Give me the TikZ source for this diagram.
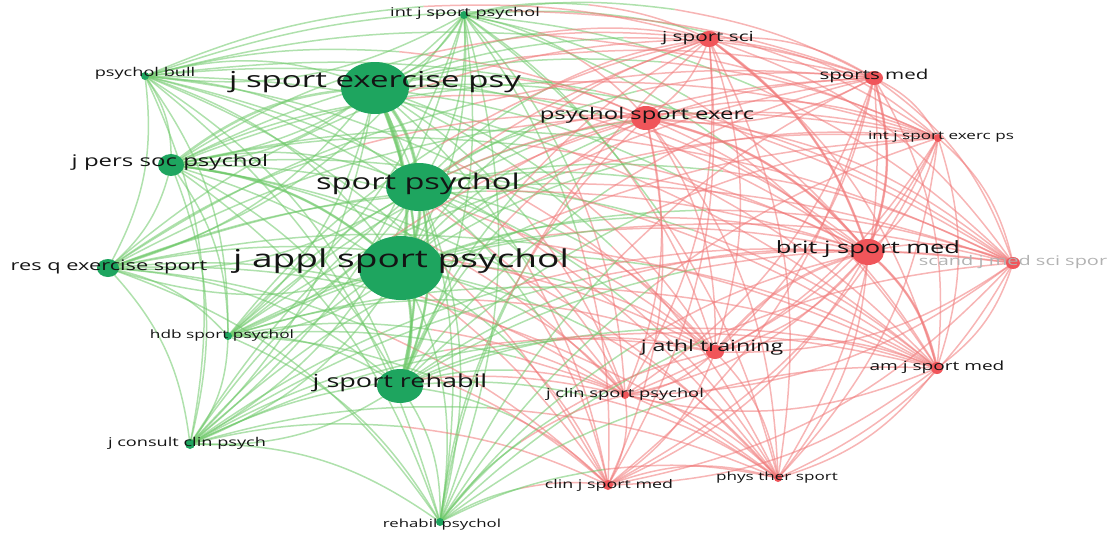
\documentclass[tikz,border=0pt]{standalone}
\usepackage{fontspec}
\setmainfont{Open Sans}[FakeStretch=1.5]
\definecolor{gnode}{RGB}{30,165,95}
\definecolor{rnode}{RGB}{240,85,90}
\definecolor{e2}{RGB}{110,200,105}
\definecolor{e4}{RGB}{240,120,120}
\definecolor{txt}{RGB}{20,20,20}
\begin{document}
\begin{tikzpicture}[x=1pt,y=-1pt,
  lbl/.style={font=\fontsize{#1}{#1}\selectfont,text=txt,inner sep=0pt,anchor=mid},
  gball/.style={fill=gnode,draw=none},
  rball/.style={fill=rnode,draw=none},
  lnk/.style={line width=1.5pt,opacity=0.55,bend left=18}]
\useasboundingbox (0,0) rectangle (1111,544);

\coordinate (isp) at (464,15);
\coordinate (pbull) at (145,76);
\coordinate (jsep) at (375,88);
\coordinate (jpsp) at (171,165);
\coordinate (spsy) at (419,187);
\coordinate (jasp) at (401,268);
\coordinate (resq) at (108,268);
\coordinate (hdb) at (228,336);
\coordinate (jsr) at (400,386);
\coordinate (jccp) at (190,444);
\coordinate (rpsy) at (440,522);
\coordinate (jss) at (709,39);
\coordinate (smed) at (874,78);
\coordinate (pse) at (646,118);
\coordinate (ijse) at (938,138);
\coordinate (bjsm) at (868,252);
\coordinate (sjms) at (1013,263);
\coordinate (jat) at (715,352);
\coordinate (ajsm) at (937,368);
\coordinate (jcsp) at (625,395);
\coordinate (cjsm) at (608,485);
\coordinate (pts) at (778,478);

\def\journals{isp/1,pbull/1,jsep/1,jpsp/1,spsy/1,jasp/1,resq/1,hdb/1,jsr/1,jccp/1,rpsy/1,jss/2,smed/2,pse/2,ijse/2,bjsm/2,sjms/2,jat/2,ajsm/2,jcsp/2,cjsm/2,pts/2}
\foreach \a/\ga [count=\i] in \journals {
  \foreach \b/\gb [count=\j] in \journals {
    \ifnum\j>\i
      \pgfmathtruncatemacro\s{\ga+\gb}
      \ifnum\s=3
        \path (\a) to[bend left=18] coordinate[pos=0.5] (half) (\b);
        \draw[lnk,e2,bend left=9] (\a) to (half);
        \draw[lnk,e4,bend left=9] (half) to (\b);
      \else
        \draw[lnk,color=e\s] (\a) to (\b);
      \fi
    \fi
  }
}
\draw[lnk,line width=3.5pt,color=e2] (jsep) to (spsy);
\draw[lnk,line width=3.5pt,color=e2] (spsy) to (jasp);
\draw[lnk,line width=3.5pt,color=e2] (jsep) to (jasp);
\draw[lnk,line width=3pt,color=e2] (jasp) to (jsr);
\draw[lnk,line width=2.5pt,color=e2] (spsy) to (jsr);
\draw[lnk,line width=2.5pt,color=e2] (jsep) to (jsr);
\draw[lnk,line width=2.5pt,color=e2] (jpsp) to (jasp);
\draw[lnk,line width=2.5pt,color=e2] (jpsp) to (jsep);
\draw[lnk,line width=2.5pt,color=e4] (pse) to (bjsm);
\draw[lnk,line width=2.5pt,color=e4] (jss) to (bjsm);
\draw[lnk,line width=2.5pt,color=e4] (smed) to (bjsm);
\draw[lnk,line width=2.5pt,color=e4] (bjsm) to (ajsm);
\draw[lnk,line width=2.5pt,color=e4] (jat) to (bjsm);

\fill[gball] (isp) circle[radius=4];
\fill[gball] (pbull) circle[radius=4];
\fill[gball] (jsep) ellipse[x radius=34,y radius=26];
\fill[gball] (jpsp) ellipse[x radius=13,y radius=11];
\fill[gball] (spsy) ellipse[x radius=33,y radius=24];
\fill[gball] (jasp) ellipse[x radius=42,y radius=32];
\fill[gball] (resq) ellipse[x radius=11,y radius=9];
\fill[gball] (hdb) circle[radius=4];
\fill[gball] (jsr) ellipse[x radius=23,y radius=17];
\fill[gball] (jccp) circle[radius=5];
\fill[gball] (rpsy) circle[radius=4];
\fill[rball] (jss) ellipse[x radius=10,y radius=8];
\fill[rball] (smed) ellipse[x radius=9,y radius=7];
\fill[rball] (pse) ellipse[x radius=15,y radius=12];
\fill[rball] (ijse) circle[radius=4];
\fill[rball] (bjsm) ellipse[x radius=16,y radius=13];
\fill[rball] (sjms) ellipse[x radius=7,y radius=6];
\fill[rball] (jat) ellipse[x radius=9,y radius=7];
\fill[rball] (ajsm) circle[radius=6];
\fill[rball] (jcsp) circle[radius=4];
\fill[rball] (cjsm) circle[radius=5];
\fill[rball] (pts) circle[radius=4];

\node[lbl=12.1] (ispl) at (465,14) {int j sport psychol};
\node[lbl=12.1] (pbulll) at (145,74) {psychol bull};
\node[lbl=22] (jsepl) at (375,85) {j sport exercise psy};
\node[lbl=16] (jpspl) at (170,164) {j pers soc psychol};
\node[lbl=21.7] (spsyl) at (418,187) {sport psychol};
\node[lbl=24.7] (jaspl) at (401,265) {j appl sport psychol};
\node[lbl=14.5] (resql) at (109,268) {res q exercise sport};
\node[lbl=11.5] (hdbl) at (222,336) {hdb sport psychol};
\node[lbl=18] (jsrl) at (400,385) {j sport rehabil};
\node[lbl=12.1] (jccpl) at (187,444) {j consult clin psych};
\node[lbl=11.2] (rpsyl) at (442,525) {rehabil psychol};
\node[lbl=13.8] (jssl) at (708,39) {j sport sci};
\node[lbl=13.7] (smedl) at (874,77) {sports med};
\node[lbl=15.9] (psel) at (647,117) {psychol sport exerc};
\node[lbl=11.4] (ijsel) at (941,137) {int j sport exerc ps};
\node[lbl=17] (bjsml) at (868,251) {brit j sport med};
\node[lbl=13.3,text=gray!60] (sjmsl) at (1013,263) {scand j med sci spor};
\node[lbl=15.5] (jatl) at (712,349) {j athl training};
\node[lbl=12.7] (ajsml) at (937,368) {am j sport med};
\node[lbl=12.2] (jcspl) at (625,395) {j clin sport psychol};
\node[lbl=11.9] (cjsml) at (609,486) {clin j sport med};
\node[lbl=11.4] (ptsl) at (777,478) {phys ther sport};
\end{tikzpicture}
\end{document}
